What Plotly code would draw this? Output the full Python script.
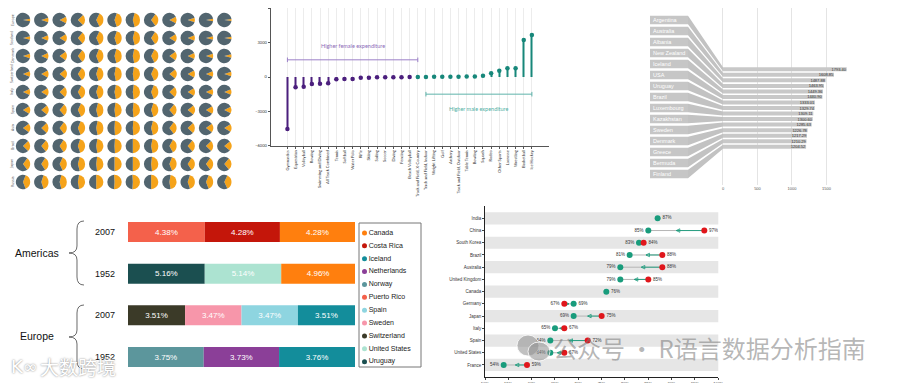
import plotly.graph_objects as go

# page is 900x383; the html body adds an 8px offset, so the figure is drawn 892x375
PAGE_W, PAGE_H, OFF = 900, 383, 8
W, H = PAGE_W - OFF, PAGE_H - OFF

# ---------------- data ----------------
# panel 1: pie grid (orange share, %)
PIE_ROW_LABELS = ["Europe", "Scotland", "Denmark", "Switzerland", "Italy",
                  "Spain", "Asia", "Brazil", "Japan", "Russia"]
PIE_SHARE = [
    [5, 10, 15, 25, 35, 40, 42, 30, 15, 10, 6, 4],
    [8, 12, 18, 28, 36, 40, 42, 32, 18, 12, 8, 5],
    [10, 14, 20, 30, 38, 42, 44, 35, 20, 14, 10, 8],
    [12, 16, 22, 32, 40, 44, 45, 36, 22, 16, 12, 10],
    [14, 18, 24, 34, 40, 44, 46, 38, 24, 18, 14, 12],
    [18, 22, 28, 36, 42, 46, 47, 40, 28, 22, 18, 15],
    [20, 24, 30, 38, 44, 48, 48, 42, 30, 24, 20, 18],
    [25, 28, 32, 40, 45, 48, 50, 44, 34, 28, 25, 22],
    [30, 32, 36, 42, 46, 50, 50, 46, 38, 32, 30, 28],
    [38, 40, 42, 45, 50, 52, 52, 50, 45, 40, 38, 36],
]

# panel 2: lollipop
SPORTS = ["Gymnastics", "Equestrian", "Volleyball", "Rowing", "Swimming and Diving",
          "All Track Combined", "Tennis", "Softball", "Water Polo", "Rifle", "Skiing",
          "Sailing", "Soccer", "Diving", "Fencing", "Beach Volleyball",
          "Track and Field, X-Country", "Track and Field, Indoor", "Weight Lifting", "Golf",
          "Archery", "Track and Field, Outdoor", "Table Tennis", "Bowling", "Squash", "Rodeo",
          "Other Sports", "Lacrosse", "Wrestling", "Basketball", "Ice Hockey"]
SPEND_GAP = [-4544, -900, -850, -610, -580, -550, -200, -175, -175, -60, -60, -30, -30,
             -25, -20, -10, 5, 10, 15, 20, 25, 30, 35, 50, 115, 320, 550, 760, 770,
             3233, 3670]
GAP_TICKS = [-6000, -3000, 0, 3000, 6000]

# panel 3: label-linked bars
COUNTRIES_3 = ["Argentina", "Australia", "Albania", "New Zealand", "Iceland", "USA",
               "Uruguay", "Brazil", "Luxembourg", "Kazakhstan", "Sweden", "Denmark",
               "Greece", "Bermuda", "Finland"]
VALUES_3 = [1793.40, 1608.85, 1487.88, 1463.95, 1449.36, 1440.90, 1333.01, 1329.74,
            1309.11, 1300.60, 1285.63, 1226.78, 1217.29, 1210.29, 1204.52]
TICKS_3 = [0, 500, 1000, 1500]

# panel 4: stacked percent bars
ROW_GROUPS = ["Americas", "Americas", "Europe", "Europe"]
ROW_YEARS = ["2007", "1952", "2007", "1952"]
ROW_COUNTRIES = [["Puerto Rico", "Costa Rica", "Canada"],
                 ["Uruguay", "United States", "Canada"],
                 ["Switzerland", "Sweden", "Spain", "Iceland"],
                 ["Norway", "Netherlands", "Iceland"]]
ROW_VALUES = [[4.38, 4.28, 4.28],
              [5.16, 5.14, 4.96],
              [3.51, 3.47, 3.47, 3.51],
              [3.75, 3.73, 3.76]]
COUNTRY_COLORS = {
    "Canada": "#ff7f0e", "Costa Rica": "#c4160a", "Iceland": "#138d9b",
    "Netherlands": "#8b3f98", "Norway": "#5c969c", "Puerto Rico": "#f4614b",
    "Spain": "#8ed5e0", "Sweden": "#f796aa", "Switzerland": "#3b3a28",
    "United States": "#ace3d1", "Uruguay": "#1b4f50",
}

# panel 5: dumbbell
DB_COUNTRIES = ["India", "China", "South Korea", "Brazil", "Australia", "United Kingdom",
                "Canada", "Germany", "Japan", "Italy", "Spain", "United States", "France"]
DB_NEW = [87, 85, 83, 81, 79, 79, 76, 69, 69, 65, 64, 64, 54]
DB_OLD = [None, 97, 84, 88, 88, 85, None, 67, 75, 67, 72, 67, 59]
DB_TICKS = [50, 55, 60, 65, 70, 75, 80, 85, 90, 95, 100]

# ---------------- helpers (page pixels -> paper) ----------------
def fx(x):
    return (x - OFF) / W

def fy(y):
    return 1 - (y - OFF) / H

def clip01(v):
    return min(1.0, max(0.0, v))

def dom_x(a, b):
    return [clip01(fx(a)), clip01(fx(b))]

def dom_y(top, bottom):
    return [clip01(fy(bottom)), clip01(fy(top))]

def P(x, y):
    return f"{fx(x):.5f},{fy(y):.5f}"

fig = go.Figure()
shapes = []
annotations = []

ORANGE, SLATE = "#f5a31a", "#52656f"
PURPLE, TEAL = "#4b1f7d", "#17877a"

# ---------------- panel 1: pies ----------------
PIE_X0, PIE_DX, PIE_Y0, PIE_DY, PIE_R = 23, 18.3, 20, 18.0, 7.2
for r, row in enumerate(PIE_SHARE):
    cy = PIE_Y0 + PIE_DY * r
    for c, share in enumerate(row):
        cx = PIE_X0 + PIE_DX * c
        fig.add_trace(go.Pie(
            values=[share, 100 - share], sort=False, direction="clockwise",
            rotation=90 - share * 1.8,
            marker=dict(colors=[ORANGE, SLATE], line=dict(width=0)),
            textinfo="none", hoverinfo="skip",
            domain=dict(x=dom_x(cx - PIE_R, cx + PIE_R), y=dom_y(cy - PIE_R, cy + PIE_R)),
            showlegend=False))
    annotations.append(dict(x=fx(12), y=fy(cy), xref="paper", yref="paper",
                            xanchor="center", yanchor="middle",
                            text=PIE_ROW_LABELS[r], textangle=-90, showarrow=False,
                            font=dict(size=3.5, color="#555")))

# ---------------- panel 2: lollipop ----------------
gap_colors = [PURPLE if v < 0 else TEAL for v in SPEND_GAP]
fig.add_trace(go.Bar(x=SPORTS, y=SPEND_GAP, width=0.14, marker=dict(color=gap_colors, line_width=0),
                     xaxis="x", yaxis="y", hoverinfo="skip", showlegend=False))
fig.add_trace(go.Scatter(x=SPORTS, y=SPEND_GAP, mode="markers",
                         marker=dict(size=4.5, color=gap_colors),
                         xaxis="x", yaxis="y", hoverinfo="skip", showlegend=False))
n_neg = sum(1 for v in SPEND_GAP if v < 0)
FEM_C, MAL_C = "#9c80c8", "#5fb3aa"
for (x0, x1, yb, col) in [(0, n_neg, 1500, FEM_C), (n_neg + 1, len(SPORTS) - 1, -1500, MAL_C)]:
    shapes.append(dict(type="line", xref="x", yref="y", x0=x0, x1=x1, y0=yb, y1=yb,
                       line=dict(color=col, width=1)))
    for xe in (x0, x1):
        shapes.append(dict(type="line", xref="x", yref="y", x0=xe, x1=xe, y0=yb - 200, y1=yb + 200,
                           line=dict(color=col, width=1)))
annotations.append(dict(x=n_neg / 2, y=2700, xref="x", yref="y", text="Higher female expenditure",
                        xanchor="center", yanchor="middle",
                        showarrow=False, font=dict(size=5.5, color="#8c6bb8", family="Lato")))
annotations.append(dict(x=(n_neg + 1 + len(SPORTS) - 1) / 2, y=-2800, xref="x", yref="y",
                        xanchor="center", yanchor="middle",
                        text="Higher male expenditure", showarrow=False,
                        font=dict(size=5.5, color="#4fb0a5", family="Lato")))

# ---------------- panel 3: labels linked to bars ----------------
BOX_Y0, BOX_STEP, BOX_H = 20, 11.0, 8.3
BAR_Y0, BAR_STEP, BAR_H = 69.3, 5.53, 4.0
BOX_L, BOX_R = -1058, -507
box_y = [BOX_Y0 + BOX_STEP * i for i in range(len(COUNTRIES_3))]
bar_y = [BAR_Y0 + BAR_STEP * i for i in range(len(COUNTRIES_3))]
fig.add_trace(go.Bar(
    y=box_y, x=[BOX_R - BOX_L] * len(COUNTRIES_3), base=BOX_L, orientation="h", width=BOX_H,
    marker=dict(color="#c6c6c6", line_width=0), text=COUNTRIES_3, textposition="inside",
    insidetextanchor="start", constraintext="none",
    textfont=dict(size=5.5, color="white", family="Liberation Sans"),
    xaxis="x2", yaxis="y2", hoverinfo="skip", showlegend=False))
bx, by = [], []
for yb, yr in zip(box_y, bar_y):
    bx += [BOX_R, 0, 0, BOX_R, BOX_R, None]
    by += [yb - BOX_H / 2, yr - BAR_H / 2, yr + BAR_H / 2, yb + BOX_H / 2, yb - BOX_H / 2, None]
fig.add_trace(go.Scatter(x=bx, y=by, mode="lines", fill="toself", fillcolor="#c2c2c2",
                         line=dict(width=0, color="#c2c2c2"), xaxis="x2", yaxis="y2",
                         hoverinfo="skip", showlegend=False))
fig.add_trace(go.Bar(
    y=bar_y, x=VALUES_3, orientation="h", width=BAR_H,
    marker=dict(color="#c8c8c8", line_width=0), text=[f"{v:.2f}" for v in VALUES_3],
    textposition="inside", insidetextanchor="end", constraintext="none",
    textfont=dict(size=4, color="#333", family="Liberation Sans"),
    xaxis="x2", yaxis="y2", hoverinfo="skip", showlegend=False))

# ---------------- panel 4: stacked percent bars ----------------
row_pos = [3, 2, 1, 0]
for pos, names, vals in zip(row_pos, ROW_COUNTRIES, ROW_VALUES):
    tot = sum(vals)
    pct = [v / tot * 100 for v in vals]
    base = [sum(pct[:k]) for k in range(len(pct))]
    fig.add_trace(go.Bar(
        y=[pos] * len(vals), x=pct, base=base, orientation="h", width=0.48,
        marker=dict(color=[COUNTRY_COLORS[n] for n in names], line_width=0),
        text=[f"{v:.2f}%" for v in vals], textposition="inside", insidetextanchor="middle",
        textfont=dict(size=8, color="white", family="Liberation Sans"),
        xaxis="x3", yaxis="y3", hoverinfo="skip", showlegend=False))
for grp in dict.fromkeys(ROW_GROUPS):
    idx = [row_pos[i] for i, g in enumerate(ROW_GROUPS) if g == grp]
    annotations.append(dict(x=fx(37), y=sum(idx) / len(idx), xref="paper", yref="y3", text=grp,
                            xanchor="center", yanchor="middle", showarrow=False,
                            font=dict(size=10.5, color="#111", family="Liberation Sans")))
# braces
for top, tip, bot in [(221, 253, 285), (305, 337, 369)]:
    path = (f"M {P(84, top)} Q {P(77, top)} {P(77, top + 8)} L {P(77, tip - 7)} "
            f"Q {P(77, tip)} {P(69, tip)} Q {P(77, tip)} {P(77, tip + 7)} "
            f"L {P(77, bot - 8)} Q {P(77, bot)} {P(84, bot)}")
    shapes.append(dict(type="path", xref="paper", yref="paper", path=path,
                       line=dict(color="#444", width=0.8)))
# legend (manual, compact)
LEG = sorted(COUNTRY_COLORS)
fig.add_trace(go.Scatter(
    x=[5.5] * len(LEG), y=list(range(len(LEG))), mode="markers+text", text=LEG,
    textposition="middle right", marker=dict(size=5, color=[COUNTRY_COLORS[n] for n in LEG]),
    textfont=dict(size=7, color="#222", family="Liberation Sans"),
    xaxis="x4", yaxis="y4", hoverinfo="skip", showlegend=False, cliponaxis=False))
shapes.append(dict(type="rect", xref="paper", yref="paper", x0=fx(359), x1=fx(421),
                   y0=fy(367), y1=fy(223), line=dict(color="#777", width=1)))

# ---------------- panel 5: dumbbell ----------------
for i in range(0, len(DB_COUNTRIES), 2):
    shapes.append(dict(type="rect", xref="x5 domain", yref="y5", x0=0, x1=1, y0=i - 0.5, y1=i + 0.5,
                       fillcolor="#e6e6e6", line_width=0, layer="below"))
GREEN, RED = "#199c7c", "#e0161b"
lx, ly, tx, ty, ax_, ay_, asym = [], [], [], [], [], [], []
for c, t, r in zip(DB_COUNTRIES, DB_NEW, DB_OLD):
    if r is None:
        continue
    m = (t + r) / 2
    lx += [t, r, None]; ly += [c, c, None]
    tx += [m, r, None]; ty += [c, c, None]
    ax_.append(m); ay_.append(c); asym.append("arrow-left-open" if t < r else "arrow-right-open")
fig.add_trace(go.Scatter(x=lx, y=ly, mode="lines", line=dict(color="#b5b5b5", width=1),
                         xaxis="x5", yaxis="y5", hoverinfo="skip", showlegend=False))
fig.add_trace(go.Scatter(x=tx, y=ty, mode="lines", line=dict(color=GREEN, width=0.9),
                         xaxis="x5", yaxis="y5", hoverinfo="skip", showlegend=False))
fig.add_trace(go.Scatter(x=ax_, y=ay_, mode="markers",
                         marker=dict(symbol=asym, size=3.5, color=GREEN, line=dict(width=0.8, color=GREEN)),
                         xaxis="x5", yaxis="y5", hoverinfo="skip", showlegend=False))
new_pos = ["middle right" if (r is None or t > r) else "middle left" for t, r in zip(DB_NEW, DB_OLD)]
fig.add_trace(go.Scatter(x=DB_NEW, y=DB_COUNTRIES, mode="markers+text",
                         text=[f"{v}%" for v in DB_NEW], textposition=new_pos,
                         textfont=dict(size=4.5, color="#333", family="Liberation Sans"),
                         marker=dict(size=6, color=GREEN),
                         xaxis="x5", yaxis="y5", hoverinfo="skip", showlegend=False))
oc = [(c, t, r) for c, t, r in zip(DB_COUNTRIES, DB_NEW, DB_OLD) if r is not None]
fig.add_trace(go.Scatter(x=[r for _, _, r in oc], y=[c for c, _, _ in oc], mode="markers+text",
                         text=[f"{r}%" for _, _, r in oc],
                         textposition=["middle right" if r > t else "middle left" for _, t, r in oc],
                         textfont=dict(size=4.5, color="#333", family="Liberation Sans"),
                         marker=dict(size=6, color=RED),
                         xaxis="x5", yaxis="y5", hoverinfo="skip", showlegend=False))

# ---------------- watermarks ----------------
annotations.append(dict(x=fx(551), y=fy(347), xref="paper", yref="paper",
                        xanchor="left", yanchor="middle",
                        text="公众号\u2009·\u2009R语言数据分析指南", showarrow=False,
                        font=dict(size=24, color="rgba(120,120,120,0.55)", family="Noto Sans CJK SC")))
shapes.append(dict(type="circle", xref="paper", yref="paper", x0=fx(517), x1=fx(539), y0=fy(356), y1=fy(335),
                   fillcolor="rgba(140,140,140,0.55)", line=dict(color="rgba(255,255,255,0.8)", width=1)))
shapes.append(dict(type="circle", xref="paper", yref="paper", x0=fx(528), x1=fx(550), y0=fy(361), y1=fy(342),
                   fillcolor="rgba(140,140,140,0.55)", line=dict(color="rgba(255,255,255,0.8)", width=1)))
annotations.append(dict(x=fx(38), y=fy(366), xref="paper", yref="paper",
                        xanchor="left", yanchor="middle",
                        text="大数跨境", showarrow=False,
                        font=dict(size=19, color="#ffffff", family="Noto Sans CJK SC",
                                  shadow="0px 0px 2px #777")))
annotations.append(dict(x=fx(9), y=fy(366), xref="paper", yref="paper",
                        xanchor="left", yanchor="middle",
                        text="K∞", showarrow=False,
                        font=dict(size=18, color="#ffffff", family="DejaVu Sans",
                                  shadow="0px 0px 2px #777")))

# ---------------- layout ----------------
small = dict(family="Lato", color="#333")
fig.update_layout(
    width=W, height=H, margin=dict(l=0, r=0, t=0, b=0, autoexpand=False),
    paper_bgcolor="white", plot_bgcolor="rgba(0,0,0,0)",
    showlegend=False, barmode="overlay",
    shapes=shapes, annotations=annotations,
    xaxis=dict(domain=dom_x(270.5, 548.8), type="category", categoryarray=SPORTS,
               tickangle=-90, tickfont=dict(size=4, **small), showgrid=True, gridcolor="#ececec",
               gridwidth=0.6, showline=True, linecolor="#555", linewidth=0.8,
               ticks="outside", ticklen=2, tickcolor="#555", anchor="y", automargin=False),
    yaxis=dict(domain=dom_y(8.3, 145.7), range=[GAP_TICKS[0], GAP_TICKS[-1]], tickvals=GAP_TICKS,
               tickformat="d", tickfont=dict(size=4, **small), showgrid=False, zeroline=False,
               showline=True, linecolor="#555", linewidth=0.8, ticks="outside", ticklen=2,
               tickcolor="#555", anchor="x", automargin=False),
    xaxis2=dict(domain=dom_x(650, 860), range=[BOX_L, 1986], tickvals=TICKS_3,
                tickfont=dict(size=4, color="#555", family="Liberation Sans"),
                showgrid=True, gridcolor="#e4e4e4", zeroline=False, showline=False, anchor="y2",
                automargin=False),
    yaxis2=dict(domain=dom_y(8, 185), range=[185, 8], visible=False, anchor="x2", automargin=False),
    xaxis3=dict(domain=dom_x(128, 355), range=[0, 100], visible=False, anchor="y3", automargin=False),
    yaxis3=dict(domain=dom_y(215, 375), range=[-0.432, 3.408], tickvals=row_pos, ticktext=ROW_YEARS,
                tickfont=dict(size=9, color="#111", family="Liberation Sans"), showgrid=False,
                zeroline=False, showline=False, ticks="", ticklabelstandoff=12, anchor="x3",
                automargin=False),
    xaxis4=dict(domain=dom_x(359, 421), range=[0, 62], visible=False, anchor="y4", automargin=False),
    yaxis4=dict(domain=dom_y(223, 367), range=[10.41, -0.777], visible=False, anchor="x4",
                automargin=False),
    xaxis5=dict(domain=dom_x(485, 718.3), range=[DB_TICKS[0], DB_TICKS[-1]], tickvals=DB_TICKS,
                ticktext=[f"{v}%" for v in DB_TICKS],
                tickfont=dict(size=4, color="#333", family="Liberation Sans"),
                showgrid=False, zeroline=False, showline=True, linecolor="#222", linewidth=0.8,
                ticks="outside", ticklen=2, anchor="y5", automargin=False),
    yaxis5=dict(domain=dom_y(206, 377.3), type="category", categoryarray=DB_COUNTRIES,
                autorange="reversed", tickfont=dict(size=4.5, color="#333", family="Liberation Sans"),
                showgrid=False, showline=True, linecolor="#222", linewidth=0.8, ticks="outside",
                ticklen=2, anchor="x5", automargin=False),
)

fig.write_html("out.html")
